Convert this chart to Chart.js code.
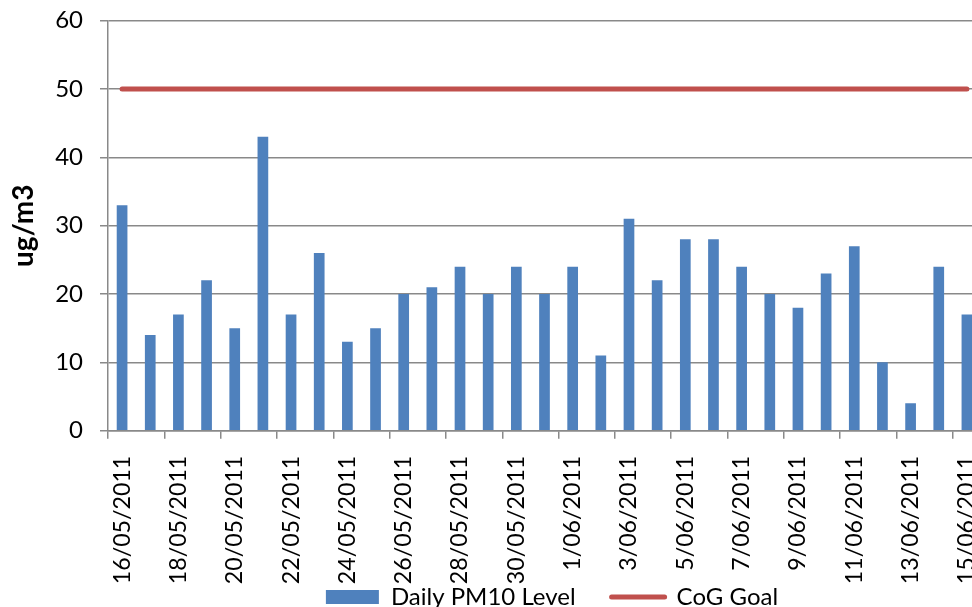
<!DOCTYPE html>
<html>
<head>
<meta charset="utf-8">
<script src="https://cdn.jsdelivr.net/npm/chart.js@4/dist/chart.umd.min.js"></script>
<style>
  html, body { margin: 0; padding: 0; overflow: hidden; background: #fff; width: 972px; height: 607px; }
  #wrap { position: absolute; left: 0; top: 0; width: 1104px; height: 619px; }
</style>
</head>
<body>
<div id="wrap"><canvas id="c"></canvas></div>
<script>
const dates = ['16/05/2011','17/05/2011','18/05/2011','19/05/2011','20/05/2011','21/05/2011','22/05/2011','23/05/2011','24/05/2011','25/05/2011','26/05/2011','27/05/2011','28/05/2011','29/05/2011','30/05/2011','31/05/2011','1/06/2011','2/06/2011','3/06/2011','4/06/2011','5/06/2011','6/06/2011','7/06/2011','8/06/2011','9/06/2011','10/06/2011','11/06/2011','12/06/2011','13/06/2011','14/06/2011','15/06/2011'];
const pm10 = [33,14,17,22,15,43,17,26,13,15,20,21,24,20,24,20,24,11,31,22,28,28,24,20,18,23,27,10,4,24,17];
const goal = [50,50,50,50,50,50,50,50,50,50,50,50,50,50,50,50,50,50,50,50,50,50,50,50,50,50,50,50,50,50,50];
const yTicks = [0,10,20,30,40,50,60];
const seriesNames = ['Daily PM10 Level','CoG Goal'];
const yTitle = 'ug/m3';

const GRID = '#898989';
const FONT = 'Lato';

new Chart(document.getElementById('c'), {
  type: 'bar',
  data: {
    labels: dates,
    datasets: [
      {
        label: seriesNames[0],
        data: pm10,
        backgroundColor: '#4f81bd',
        borderWidth: 0,
        barPercentage: 0.38,
        categoryPercentage: 1.0,
        yAxisID: 'y'
      },
      {
        type: 'line',
        label: seriesNames[1],
        data: goal,
        borderColor: '#c0504d',
        backgroundColor: '#c0504d',
        borderWidth: 5,
        borderCapStyle: 'round',
        pointRadius: 0,
        fill: false,
        tension: 0,
        yAxisID: 'y'
      }
    ]
  },
  options: {
    responsive: true,
    maintainAspectRatio: false,
    devicePixelRatio: 1,
    animation: false,
    layout: { padding: { left: 0, right: 0, top: 20.7, bottom: 0 } },
    plugins: {
      tooltip: { enabled: false },
      legend: {
        position: 'bottom',
        align: 'center',
        labels: {
          font: { family: FONT, size: 24 },
          color: '#000',
          usePointStyle: true,
          pointStyleWidth: 53,
          boxHeight: 14,
          padding: 36,
          generateLabels(chart) {
            const items = Chart.defaults.plugins.legend.labels.generateLabels(chart);
            items.forEach(it => {
              if (it.datasetIndex === 0) { it.pointStyle = 'rect'; it.lineWidth = 0; }
              else { it.pointStyle = 'line'; it.lineWidth = 5; it.lineCap = 'round'; }
            });
            return items;
          }
        }
      }
    },
    scales: {
      x: {
        offset: true,
        grid: {
          offset: true,
          drawOnChartArea: false,
          drawTicks: true,
          tickLength: 8,
          color: ctx => (ctx.index % 2 === 0 ? GRID : 'rgba(0,0,0,0)'),
          lineWidth: 1.5
        },
        border: { display: true, color: GRID, width: 1.5 },
        ticks: {
          autoSkip: false,
          minRotation: 90,
          maxRotation: 90,
          padding: 17,
          color: '#000',
          font: { family: FONT, size: 23.2 },
          callback: function (v, i) { return i % 2 === 0 ? this.getLabelForValue(v) : ''; }
        },
        afterFit: s => {
          s.height = 118.3;
          s.paddingLeft = 0; s.paddingRight = 0;
          s._computeLabelArea = () => undefined;
        }
      },
      y: {
        position: 'left',
        min: 0,
        max: 60,
        afterBuildTicks: s => { s.ticks = yTicks.map(v => ({ value: v })); },
        grid: { color: GRID, lineWidth: 1.5, tickLength: 8, drawTicks: true },
        border: { display: true, color: GRID, width: 1.5 },
        ticks: {
          padding: 17,
          color: '#000',
          font: { family: FONT, size: 24 }
        },
        title: {
          display: true,
          text: yTitle,
          color: '#000',
          font: { family: FONT, size: 28, weight: 'bold' },
          padding: { top: 7, bottom: 0 }
        },
        afterFit: s => { s.width = 108; s.paddingTop = 0; s.paddingBottom = 0; }
      },
      y2: {
        position: 'right',
        display: true,
        min: 0,
        max: 60,
        grid: { drawOnChartArea: false, drawTicks: false, display: false },
        border: { display: false },
        ticks: { display: false },
        afterFit: s => { s.width = 123; s.paddingTop = 0; s.paddingBottom = 0; }
      }
    }
  }
});
</script>
</body>
</html>
